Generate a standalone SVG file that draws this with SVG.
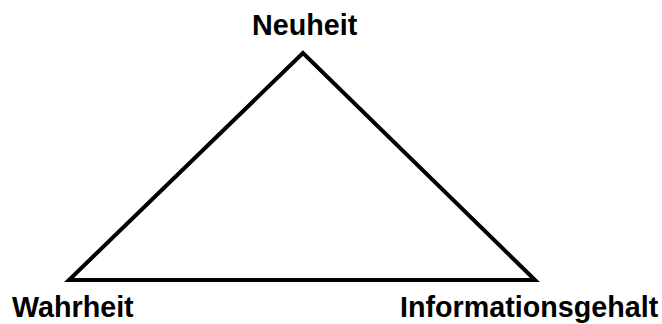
<svg xmlns="http://www.w3.org/2000/svg" width="662" height="324" viewBox="0 0 662 324">
<style>
.lbl{font-family:"Liberation Sans",Arial,sans-serif;font-weight:bold;font-size:28.7px;fill:#000}
</style>
<rect width="662" height="324" fill="#fff"/>
<g id="connectors">
<polygon points="303,53 69,280 535,280" fill="none" stroke="#000" stroke-width="4" stroke-linejoin="miter"/>
</g>
<g id="neuheit"><text class="lbl" x="252" y="35">Neuheit</text></g>
<g id="wahrheit"><text class="lbl" x="12" y="317">Wahrheit</text></g>
<g id="informationsgehalt"><text class="lbl" x="400" y="317">Informationsgehalt</text></g>
</svg>
